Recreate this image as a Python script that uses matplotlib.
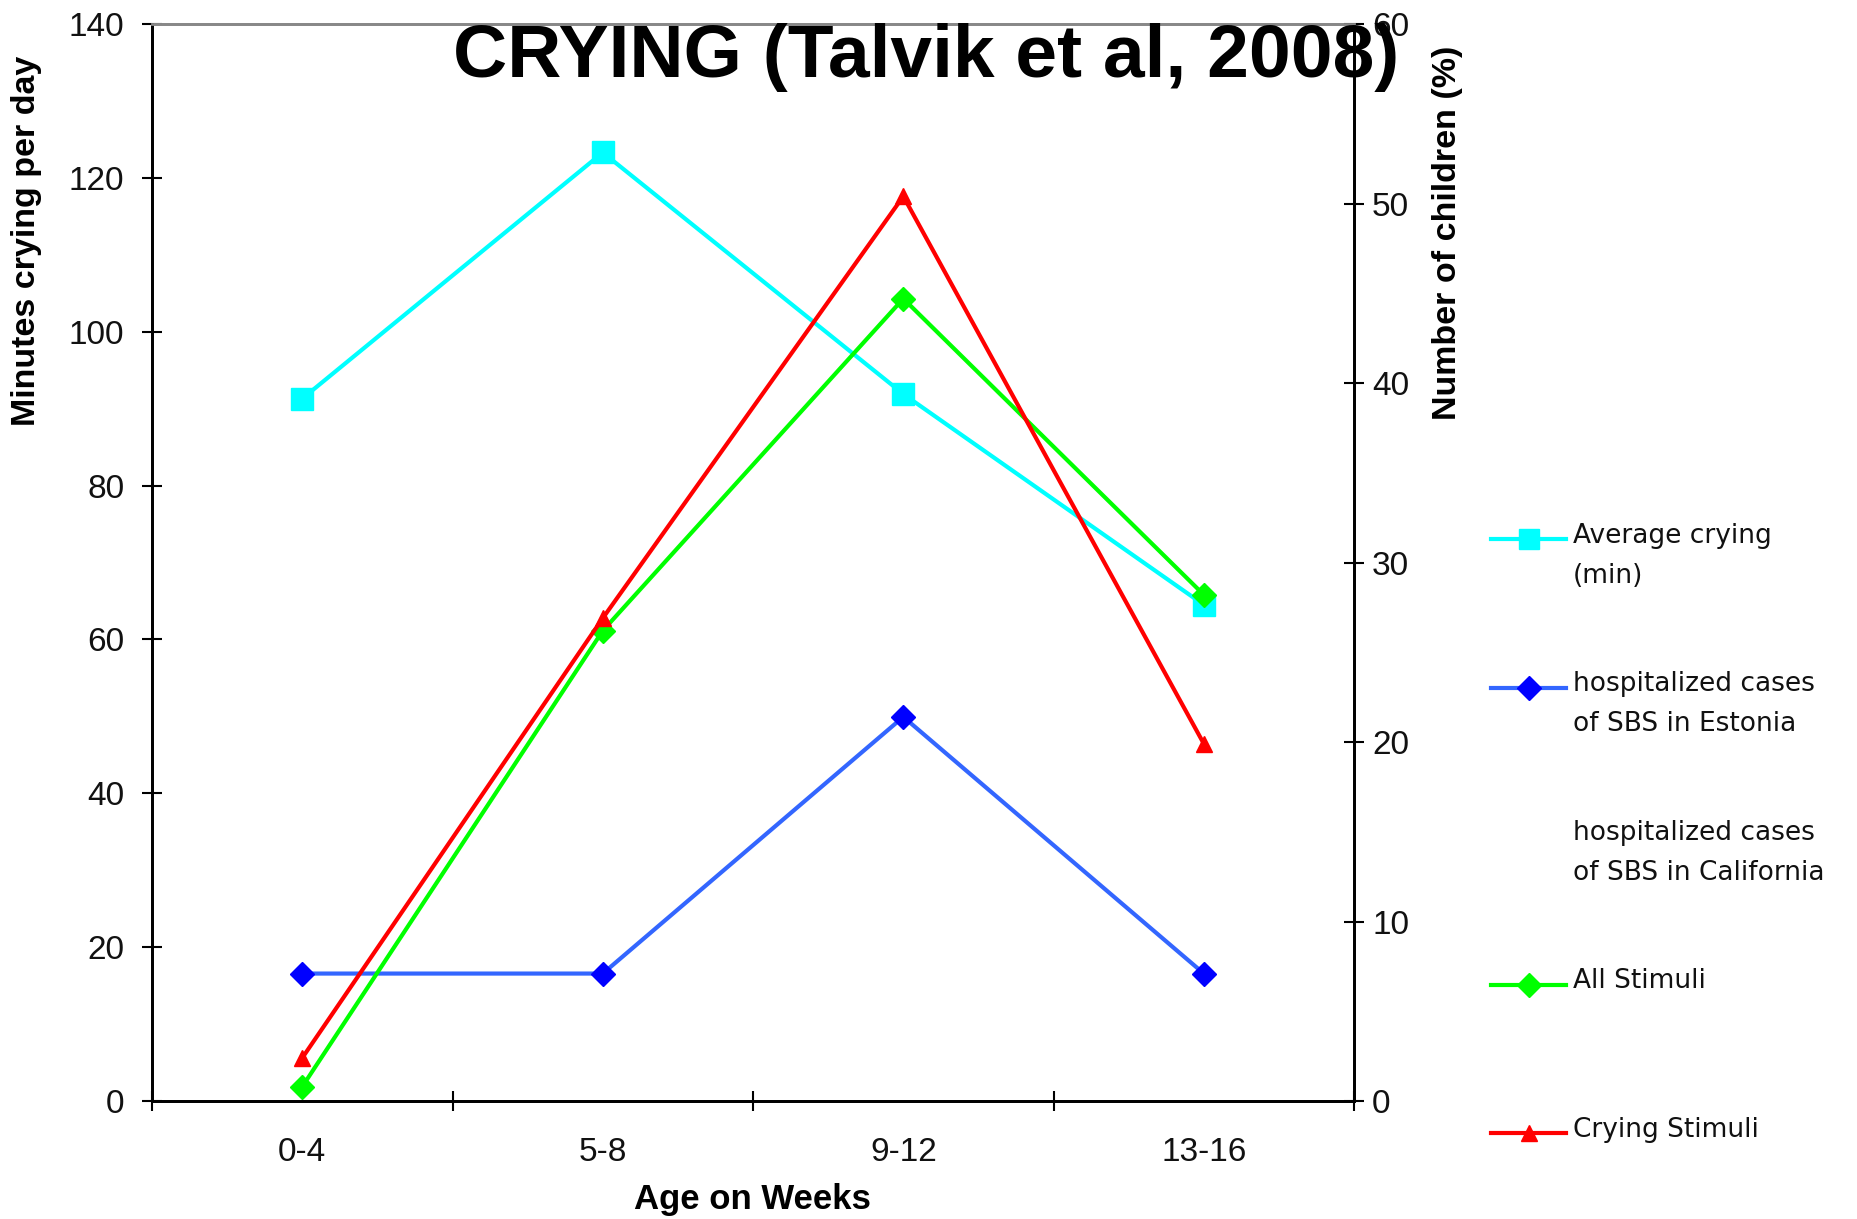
import matplotlib
matplotlib.use("Agg")
import matplotlib.pyplot as plt
from matplotlib.lines import Line2D
import numpy as np

# data
age_groups = ['0-4', '5-8', '9-12', '13-16']
avg_crying_min = [91.3, 123.3, 91.9, 64.5]        # left axis, minutes/day
sbs_estonia_pct = [7.1, 7.1, 21.4, 7.1]           # right axis, %
all_stimuli_pct = [0.8, 26.2, 44.7, 28.2]         # right axis, %
crying_stimuli_pct = [2.4, 26.9, 50.4, 19.9]      # right axis, %

SANS = ['Liberation Sans', 'DejaVu Sans']

fig = plt.figure(figsize=(18.58, 12.19), dpi=100, facecolor='white')
ax1 = fig.add_axes([0.0818, 0.0968, 0.647, 0.8835])
ax2 = ax1.twinx()

x = np.arange(len(age_groups))

ax1.plot(x, avg_crying_min, color='#00FFFF', lw=3, marker='s', ms=16,
         mfc='#00FFFF', mec='#00FFFF', zorder=3)
ax2.plot(x, sbs_estonia_pct, color='#3366FF', lw=3, marker='D', ms=12,
         mfc='#0000FF', mec='#0000FF', zorder=3)
ax2.plot(x, all_stimuli_pct, color='#00FF00', lw=3, marker='D', ms=12,
         mfc='#00FF00', mec='#00FF00', zorder=3)
ax2.plot(x, crying_stimuli_pct, color='#FF0000', lw=3, marker='^', ms=12,
         mfc='#FF0000', mec='#FF0000', zorder=4)

ax1.set_xlim(-0.5, 3.5)
ax1.set_ylim(0, 140)
ax2.set_ylim(0, 60)
ax1.set_yticks(np.arange(0, 141, 20))
ax2.set_yticks(np.arange(0, 61, 10))

# category labels between the boundary ticks
ax1.set_xticks(np.arange(-0.5, 3.6, 1.0))
ax1.set_xticklabels([])
ax1.set_xticks(x, minor=True)
ax1.set_xticklabels(age_groups, minor=True)
ax1.tick_params(axis='x', which='major', direction='inout', length=14, width=1.5)
ax1.tick_params(axis='x', which='minor', length=0, pad=26, labelsize=24)

ax1.tick_params(axis='y', direction='inout', length=14, width=1.5, pad=13, labelsize=24)
ax2.tick_params(axis='y', direction='inout', length=14, width=1.5, pad=6, labelsize=24)

for lab in ax1.get_xticklabels(minor=True) + ax1.get_yticklabels() + ax2.get_yticklabels():
    lab.set_family(SANS)
    lab.set_color('#111111')

for ax in (ax1, ax2):
    ax.spines['top'].set_color('#888888')
    ax.spines['top'].set_linewidth(2)
    for s in ('left', 'right', 'bottom'):
        ax.spines[s].set_color('black')
        ax.spines[s].set_linewidth(2)

# axis titles
fig.text(0.014, 0.802, 'Minutes crying per day', rotation=90, ha='center', va='center',
         fontsize=24.5, fontweight='bold', family=SANS)
fig.text(0.779, 0.809, 'Number of children (%)', rotation=90, ha='center', va='center',
         fontsize=24.5, fontweight='bold', family=SANS)
fig.text(0.405, 0.0156, 'Age on Weeks', ha='center', va='center',
         fontsize=25, fontweight='bold', family=SANS)

fig.text(0.4985, 0.953, 'CRYING (Talvik et al, 2008)', ha='center', va='center',
         fontsize=54, fontweight='bold', family=SANS, zorder=10)

# legend, drawn by hand to keep the first-line alignment of the original
legend_items = [
    ('Average crying\n(min)', '#00FFFF', 's', '#00FFFF', 15),
    ('hospitalized cases\nof SBS in Estonia', '#3366FF', 'D', '#0000FF', 12),
    ('hospitalized cases\nof SBS in California', None, None, None, 0),
    ('All Stimuli', '#00FF00', 'D', '#00FF00', 12),
    ('Crying Stimuli', '#FF0000', '^', '#FF0000', 12),
]
lx0, lx1, ltx = 1491 / 1858, 1566 / 1858, 1573 / 1858
ly0, lstep = 539, 148.5
for i, (label, lc, mk, mc, ms) in enumerate(legend_items):
    yf = 1 - (ly0 + i * lstep) / 1219
    if lc is not None:
        fig.add_artist(Line2D([lx0, lx1], [yf, yf], transform=fig.transFigure,
                              color=lc, lw=3))
        fig.add_artist(Line2D([(lx0 + lx1) / 2], [yf], transform=fig.transFigure,
                              marker=mk, ms=ms, mfc=mc, mec=mc, lw=0))
    fig.text(ltx, yf + 0.0135, label, ha='left', va='top', fontsize=19,
             family=['DejaVu Sans'], linespacing=1.7, color='#111111')

fig.savefig('out.png', dpi=100, facecolor='white')
